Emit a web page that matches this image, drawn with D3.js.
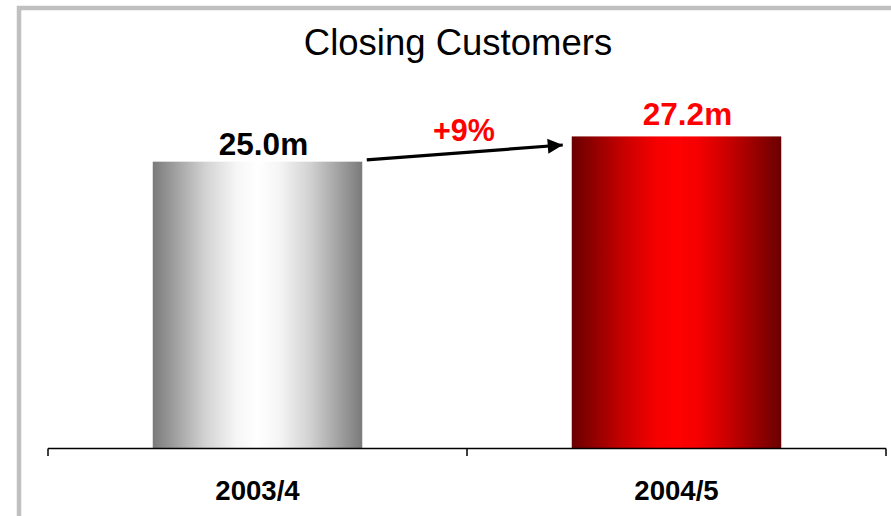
<!DOCTYPE html>
<html>
<head>
<meta charset="utf-8">
<script src="https://cdn.jsdelivr.net/npm/d3@7"></script>
<style>
  html, body { margin: 0; padding: 0; background: #fff; }
  svg { display: block; }
  text { font-family: "Liberation Sans", Arial, Helvetica, sans-serif; }
</style>
</head>
<body>
<svg id="chart" width="891" height="516"></svg>
<script>
// Closing customers (millions) by financial year
const categories = ["2003/4", "2004/5"];
const customers = [25.0, 27.2];
const valueLabels = ["25.0m", "27.2m"];
const growthLabel = "+9%";
const title = "Closing Customers";

const W = 891, H = 516;
const plot = { left: 48, right: 886, top: 104.3, bottom: 448.5 };

const svg = d3.select("#chart");

// Outer frame (only the top and left edges fall inside the view)
svg.append("rect")
  .attr("x", 19).attr("y", 8)
  .attr("width", W + 40).attr("height", H + 40)
  .attr("fill", "none")
  .attr("stroke", "#c0c0c0")
  .attr("stroke-width", 4.5);

const x = d3.scaleBand()
  .domain(categories)
  .range([plot.left, plot.right])
  .paddingInner(0.5)
  .paddingOuter(0.25);

const xAxisScale = d3.scaleBand()
  .domain(categories)
  .range([plot.left, plot.right]);

const y = d3.scaleLinear()
  .domain([0, 30])
  .range([plot.bottom, plot.top]);

// Gradients: dark edges, bright centre
const defs = svg.append("defs");
const fills = [
  { id: "gGrey", stops: ["#7a7a7a", "#d2d2d2", "#f6f6f6", "#ffffff"] },
  { id: "gRed", stops: ["#6a0000", "#c80000", "#f50000", "#ff0000"] }
];
const stopOffsets = [0, 0.25, 0.4, 0.5];
fills.forEach(f => {
  const g = defs.append("linearGradient")
    .attr("id", f.id).attr("x1", "0").attr("x2", "1").attr("y1", "0").attr("y2", "0");
  const offs = stopOffsets.concat(stopOffsets.slice(0, -1).reverse().map(o => 1 - o));
  const cols = f.stops.concat(f.stops.slice(0, -1).reverse());
  offs.forEach((o, i) => g.append("stop").attr("offset", o).attr("stop-color", cols[i]));
});

// Bars
svg.selectAll("rect.bar")
  .data(customers)
  .join("rect")
  .attr("class", "bar")
  .attr("x", (d, i) => x(categories[i]))
  .attr("width", x.bandwidth())
  .attr("y", d => y(d))
  .attr("height", d => y(0) - y(d))
  .attr("fill", (d, i) => `url(#${fills[i].id})`);

// Category axis with ticks on band edges
const axisG = svg.append("g");
axisG.append("line")
  .attr("x1", plot.left).attr("x2", plot.right)
  .attr("y1", plot.bottom).attr("y2", plot.bottom)
  .attr("stroke", "#000").attr("stroke-width", 1.5);
const edges = categories.map(c => xAxisScale(c)).concat([plot.right]);
axisG.selectAll("line.tick")
  .data(edges)
  .join("line")
  .attr("class", "tick")
  .attr("x1", d => d).attr("x2", d => d)
  .attr("y1", plot.bottom).attr("y2", plot.bottom + 7.5)
  .attr("stroke", "#000").attr("stroke-width", 1.5);
axisG.selectAll("text.cat")
  .data(categories)
  .join("text")
  .attr("class", "cat")
  .attr("x", d => xAxisScale(d) + xAxisScale.bandwidth() / 2)
  .attr("y", 499.5)
  .attr("text-anchor", "middle")
  .attr("font-weight", "bold")
  .attr("font-size", 27.6)
  .attr("fill", "#000")
  .text(d => d);

// Value labels above bars
const labelColours = ["#000000", "#ff0000"];
const labelNudge = [{ dx: 6, dy: -6.7 }, { dx: 11, dy: -11.4 }];
svg.selectAll("text.val")
  .data(customers)
  .join("text")
  .attr("class", "val")
  .attr("x", (d, i) => x(categories[i]) + x.bandwidth() / 2 + labelNudge[i].dx)
  .attr("y", (d, i) => y(d) + labelNudge[i].dy)
  .attr("text-anchor", "middle")
  .attr("font-weight", "bold")
  .attr("font-size", 31.5)
  .attr("fill", (d, i) => labelColours[i])
  .text((d, i) => valueLabels[i]);

// Growth arrow between the two bars
defs.append("marker")
  .attr("id", "arrowHead")
  .attr("viewBox", "0 0 10 10")
  .attr("refX", 10).attr("refY", 5)
  .attr("markerUnits", "userSpaceOnUse")
  .attr("markerWidth", 16).attr("markerHeight", 15)
  .attr("orient", "auto")
  .append("path")
  .attr("d", "M0,0 L10,5 L0,10 Z")
  .attr("fill", "#000");

const ax1 = x(categories[0]) + x.bandwidth() + 4.5;
const ax2 = x(categories[1]) - 9;
svg.append("line")
  .attr("x1", ax1).attr("y1", y(customers[0]) - 1.7)
  .attr("x2", ax2).attr("y2", y(customers[1]) + 8.6)
  .attr("stroke", "#000").attr("stroke-width", 3.2)
  .attr("marker-end", "url(#arrowHead)");

svg.append("text")
  .attr("x", 464)
  .attr("y", 140.5)
  .attr("text-anchor", "middle")
  .attr("font-weight", "bold")
  .attr("font-size", 30.5)
  .attr("fill", "#ff0000")
  .text(growthLabel);

// Title
svg.append("text")
  .attr("x", 458)
  .attr("y", 54.5)
  .attr("text-anchor", "middle")
  .attr("font-size", 36.5)
  .attr("fill", "#000")
  .text(title);
</script>
</body>
</html>
